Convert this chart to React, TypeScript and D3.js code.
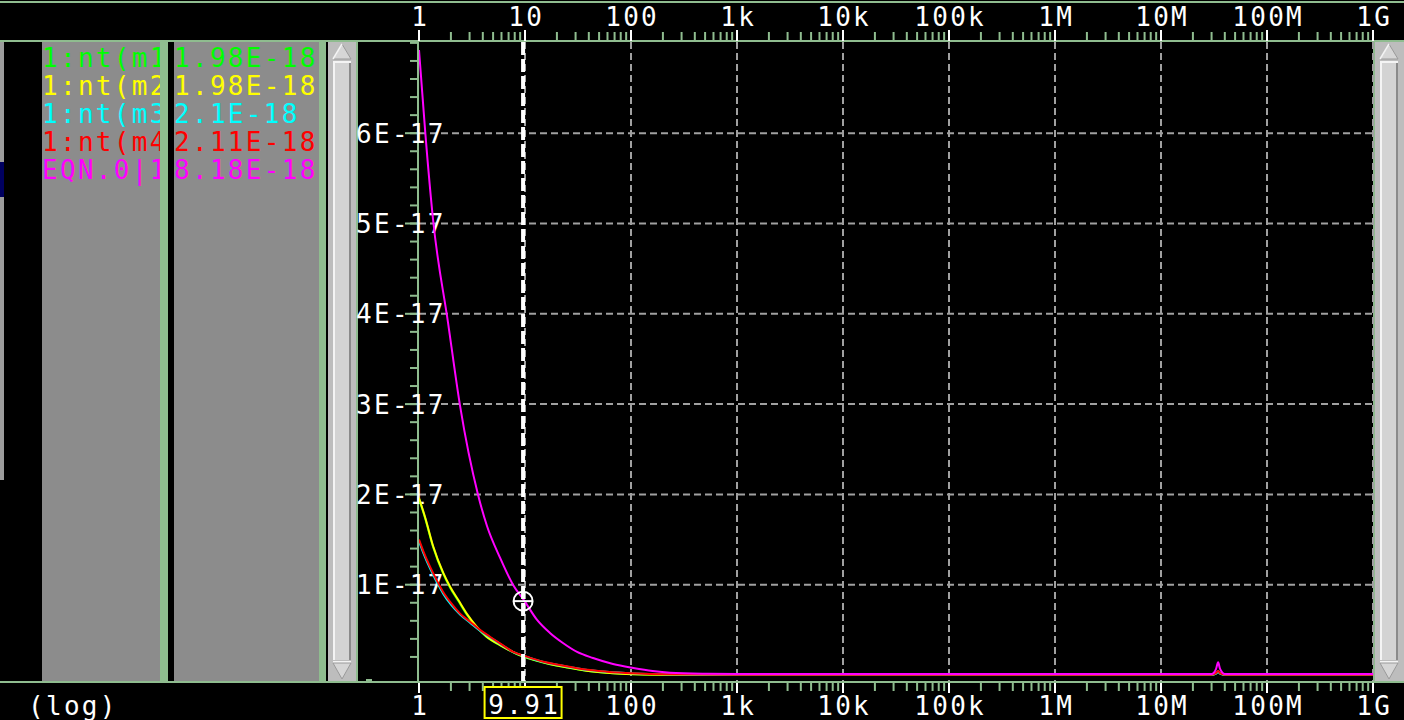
import React from "react";
import * as d3 from "d3";

// x axis decades
const freqTicks = [1, 10, 100, 1e3, 1e4, 1e5, 1e6, 1e7, 1e8, 1e9];
const freqLabels = ["1", "10", "100", "1k", "10k", "100k", "1M", "10M", "100M", "1G"];

// y axis (values in units of 1E-17)
const yTicks = [1, 2, 3, 4, 5, 6];
const yLabels = ["1E-17", "2E-17", "3E-17", "4E-17", "5E-17", "6E-17"];

// cursor
const cursorFreq = 9.91;
const cursorLabel = "9.91";

// trace 1:nt(m1 (hidden under m2)
const m1Freq = [1, 1.14, 1.365, 1.695, 1.96, 2.35, 2.82, 3.5, 4.35, 5.81, 8.36, 11.96, 17.2, 24.7, 38.1, 58.8, 90.8, 200, 1e3, 1e5, 1e7, 3.0e7, 3.3e7, 3.46e7, 3.6e7, 4.0e7, 1e8, 1e9];
const m1Val = [1.95, 1.74, 1.41, 1.12, 0.97, 0.82, 0.67, 0.53, 0.42, 0.33, 0.233, 0.168, 0.12, 0.084, 0.047, 0.024, 0.01, 0.004, 0.003, 0.003, 0.003, 0.003, 0.018, 0.038, 0.018, 0.003, 0.003, 0.003];

// trace 1:nt(m2
const m2Freq = [1, 1.14, 1.365, 1.695, 1.96, 2.35, 2.82, 3.5, 4.35, 5.81, 8.36, 11.96, 17.2, 24.7, 38.1, 58.8, 90.8, 200, 1e3, 1e5, 1e7, 3.0e7, 3.3e7, 3.46e7, 3.6e7, 4.0e7, 1e8, 1e9];
const m2Val = [1.96, 1.75, 1.42, 1.13, 0.98, 0.83, 0.68, 0.535, 0.424, 0.332, 0.235, 0.17, 0.122, 0.085, 0.048, 0.025, 0.011, 0.004, 0.003, 0.003, 0.003, 0.003, 0.02, 0.04, 0.02, 0.003, 0.003, 0.003];

// trace 1:nt(m3
const m3Freq = [1, 1.1, 1.27, 1.47, 1.69, 2.03, 2.44, 3.03, 3.76, 4.67, 5.81, 7.75, 10.4, 14.9, 21.4, 35.5, 58.8, 105, 215, 1e3, 1e5, 1e7, 3.0e7, 3.3e7, 3.46e7, 3.6e7, 4.0e7, 1e8, 1e9];
const m3Val = [1.48, 1.35, 1.18, 1.03, 0.9, 0.77, 0.67, 0.58, 0.49, 0.418, 0.345, 0.254, 0.2, 0.145, 0.108, 0.062, 0.036, 0.018, 0.008, 0.003, 0.003, 0.003, 0.003, 0.016, 0.035, 0.016, 0.003, 0.003, 0.003];

// trace 1:nt(m4
const m4Freq = [1, 1.1, 1.27, 1.47, 1.69, 2.03, 2.44, 3.03, 3.76, 4.67, 5.81, 7.75, 10.4, 14.9, 21.4, 35.5, 58.8, 105, 215, 1e3, 1e5, 1e7, 3.0e7, 3.3e7, 3.46e7, 3.6e7, 4.0e7, 1e8, 1e9];
const m4Val = [1.5, 1.37, 1.2, 1.05, 0.92, 0.79, 0.68, 0.59, 0.5, 0.424, 0.35, 0.257, 0.203, 0.147, 0.11, 0.063, 0.037, 0.019, 0.008, 0.003, 0.003, 0.003, 0.003, 0.02, 0.045, 0.02, 0.003, 0.003, 0.003];

// trace EQN.0|1 (sum)
const eqnFreq = [1, 1.147, 1.355, 1.88, 2.44, 3.6, 4.38, 5.81, 7.7, 9.91, 13, 17.2, 22.8, 31, 43.8, 67.6, 105, 160, 233, 524, 1e3, 1e5, 1e7, 3.0e7, 3.3e7, 3.46e7, 3.6e7, 4.0e7, 1e8, 1e9];
const eqnVal = [6.92, 6.0, 5.05, 3.9, 2.98, 2.0, 1.65, 1.3, 1.0, 0.818, 0.61, 0.465, 0.354, 0.255, 0.188, 0.122, 0.078, 0.044, 0.025, 0.013, 0.01, 0.01, 0.01, 0.01, 0.065, 0.14, 0.07, 0.01, 0.01, 0.01];

const traceNames = ["1:nt(m1", "1:nt(m2", "1:nt(m3", "1:nt(m4", "EQN.0|1"];
const traceValues = ["1.98E-18", "1.98E-18", "2.1E-18", "2.11E-18", "8.18E-18"];
const traceColors = ["#00ff00", "#ffff00", "#00ffff", "#ff0000", "#ff00ff"];

const GREEN = "#8fbc8f";
const PANEL = "#8c8c8c";
const GRID = "#a0a0a0";
const FONT = "'DejaVu Sans Mono', monospace";
const LS = 2.3;

function ScrollBar({ x0, w, cx, top, bottom }) {
  const tw = 18;
  return (
    <g>
      <rect x={x0} y={top} width={w} height={bottom - top} fill="#bdbdbd" />
      <polygon points={`${cx},${top + 2} ${cx - tw / 2},${top + 17} ${cx + tw / 2},${top + 17}`} fill="#d6d6d6" stroke="#9a9a9a" strokeWidth={1} />
      <line x1={cx} y1={top + 2} x2={cx - tw / 2} y2={top + 17} stroke="#f4f4f4" strokeWidth={1.5} />
      <rect x={cx - tw / 2} y={top + 19} width={tw} height={bottom - top - 40} fill="#d3d3d3" />
      <line x1={cx - tw / 2 + 1} y1={top + 19} x2={cx - tw / 2 + 1} y2={bottom - 21} stroke="#f4f4f4" strokeWidth={2} />
      <line x1={cx + tw / 2 - 1} y1={top + 19} x2={cx + tw / 2 - 1} y2={bottom - 21} stroke="#8a8a8a" strokeWidth={2} />
      <line x1={cx - tw / 2} y1={top + 20} x2={cx + tw / 2} y2={top + 20} stroke="#f4f4f4" strokeWidth={2} />
      <line x1={cx - tw / 2} y1={bottom - 19} x2={cx + tw / 2} y2={bottom - 19} stroke="#f4f4f4" strokeWidth={2} />
      <polygon points={`${cx - tw / 2},${bottom - 18} ${cx + tw / 2},${bottom - 18} ${cx},${bottom - 2}`} fill="#d6d6d6" stroke="#9a9a9a" strokeWidth={1} />
    </g>
  );
}

export default function App() {
  const W = 1404;
  const H = 720;
  const plot = { left: 419, right: 1373, top: 41, bottom: 682 };

  const x = d3.scaleLog().domain([1, 1e9]).range([plot.left, plot.right]);
  const y = d3.scaleLinear().domain([0, 7.021]).range([675, plot.top]);

  const series = [
    { f: m1Freq, v: m1Val },
    { f: m2Freq, v: m2Val },
    { f: m3Freq, v: m3Val },
    { f: m4Freq, v: m4Val },
    { f: eqnFreq, v: eqnVal },
  ].map((s, i) => ({
    name: traceNames[i],
    value: traceValues[i],
    color: traceColors[i],
    pts: s.f.map((f, j) => [f, s.v[j]]),
  }));

  const line = d3
    .line()
    .x((d) => x(d[0]))
    .y((d) => y(d[1]))
    .curve(d3.curveMonotoneX);

  const minorFreq = [];
  for (let d = 0; d < 9; d++) {
    for (let k = 2; k <= 9; k++) minorFreq.push(k * Math.pow(10, d));
  }
  const yMinor = d3.range(1, 36).map((i) => i * 0.2);

  const cx = x(cursorFreq) - 1.5;
  const eqnAtCursor = eqnVal[eqnFreq.indexOf(cursorFreq)];
  const cy = y(eqnAtCursor);

  // bottom labels hidden by the cursor readout box
  const boxL = cx - 38.5;
  const boxR = cx + 38.5;
  const bottomLabels = freqTicks
    .map((f, i) => ({ f, label: freqLabels[i] }))
    .filter((d) => x(d.f) + 14 < boxL || x(d.f) - 14 > boxR);

  return (
    <svg
      width={W}
      height={H}
      style={{ position: "absolute", left: 0, top: 0, display: "block", background: "#000" }}
      fontFamily={FONT}
    >
      <rect width={W} height={H} fill="#000" />

      {/* frame lines */}
      <rect x={0} y={1} width={W} height={2} fill={GREEN} />
      <rect x={0} y={40} width={W} height={2} fill={GREEN} />
      <rect x={0} y={681} width={W} height={2} fill={GREEN} />

      {/* left edge strip */}
      <rect x={0} y={42} width={4} height={438} fill="#9c9c9c" />
      <rect x={0} y={162} width={4} height={35} fill="#000060" />

      {/* legend panels */}
      <rect x={42} y={42} width={118} height={639} fill={PANEL} />
      <rect x={160} y={42} width={8} height={639} fill={GREEN} />
      <rect x={174} y={42} width={145} height={639} fill={PANEL} />
      <rect x={319} y={42} width={7} height={639} fill={GREEN} />
      <defs>
        <clipPath id="names">
          <rect x={42} y={42} width={118} height={639} />
        </clipPath>
        <clipPath id="vals">
          <rect x={174} y={42} width={145} height={639} />
        </clipPath>
        <clipPath id="plot">
          <rect x={plot.left} y={plot.top} width={plot.right - plot.left} height={plot.bottom - plot.top} />
        </clipPath>
      </defs>
      <g fontSize={26} letterSpacing={LS}>
        {series.map((s, i) => (
          <g key={s.name}>
            <text x={42} y={67 + i * 28} fill={s.color} clipPath="url(#names)">
              {s.name}
            </text>
            <text x={174} y={67 + i * 28} fill={s.color} clipPath="url(#vals)">
              {s.value}
            </text>
          </g>
        ))}
      </g>

      <ScrollBar x0={328} w={28} cx={342} top={42} bottom={681} />
      <rect x={356} y={42} width={2} height={639} fill={GREEN} />
      <ScrollBar x0={1375} w={29} cx={1389} top={42} bottom={681} />
      <rect x={1373} y={42} width={2} height={639} fill={GREEN} />
      <rect x={366} y={679} width={6} height={3} fill={GREEN} />

      {/* grid */}
      <g stroke={GRID} strokeWidth={2} strokeDasharray="7 4">
        {freqTicks.slice(1).map((f) => (
          <line key={f} x1={x(f)} x2={x(f)} y1={plot.top + 1} y2={plot.bottom - 1} />
        ))}
        {yTicks.map((v) => (
          <line key={v} x1={plot.left} x2={plot.right} y1={y(v)} y2={y(v)} />
        ))}
      </g>

      {/* y axis */}
      <rect x={417} y={42} width={2} height={639} fill={GREEN} />
      <g stroke={GREEN} strokeWidth={2}>
        {yMinor.map((v) => (
          <line key={v} x1={410} x2={417} y1={y(v)} y2={y(v)} />
        ))}
        {yTicks.map((v) => (
          <line key={v} x1={405} x2={417} y1={y(v)} y2={y(v)} />
        ))}
      </g>
      <g fontSize={26} letterSpacing={LS} fill="#fff">
        {yTicks.map((v, i) => (
          <text key={v} x={356} y={y(v) + 9.5}>
            {yLabels[i]}
          </text>
        ))}
      </g>

      {/* top axis */}
      <g>
        {minorFreq.map((f) => (
          <line key={f} x1={x(f)} x2={x(f)} y1={32} y2={40} stroke={GREEN} strokeWidth={2} />
        ))}
        {freqTicks.map((f) => (
          <line key={f} x1={x(f)} x2={x(f)} y1={30} y2={41} stroke="#fff" strokeWidth={2} />
        ))}
        {freqTicks.map((f, i) => (
          <text key={f} x={x(f) + LS / 2} y={26} textAnchor="middle" fontSize={26} letterSpacing={LS} fill="#fff">
            {freqLabels[i]}
          </text>
        ))}
      </g>

      {/* bottom axis */}
      <g>
        {minorFreq.map((f) => (
          <line key={f} x1={x(f)} x2={x(f)} y1={683} y2={691} stroke={GREEN} strokeWidth={2} />
        ))}
        {freqTicks.map((f) => (
          <line key={f} x1={x(f)} x2={x(f)} y1={683} y2={693} stroke="#fff" strokeWidth={2} />
        ))}
        {bottomLabels.map((d) => (
          <text key={d.f} x={x(d.f) + LS / 2} y={715} textAnchor="middle" fontSize={26} letterSpacing={LS} fill="#fff">
            {d.label}
          </text>
        ))}
        <text x={28} y={715} fontSize={26} letterSpacing={LS} fill="#fff">
          (log)
        </text>
      </g>

      {/* traces */}
      <g clipPath="url(#plot)" fill="none" strokeWidth={2}>
        {series.map((s) => (
          <path key={s.name} d={line(s.pts)} stroke={s.color} />
        ))}
      </g>

      {/* cursor */}
      <line x1={cx} x2={cx} y1={plot.top + 1} y2={plot.bottom - 1} stroke="#fff" strokeWidth={4} strokeDasharray="13 4" />
      <circle cx={cx} cy={cy} r={9.5} fill="none" stroke="#fff" strokeWidth={2} />
      <line x1={cx - 9.5} x2={cx + 9.5} y1={cy} y2={cy} stroke="#fff" strokeWidth={2} />
      <rect x={boxL} y={687} width={77} height={31} fill="#000" stroke="#ffff00" strokeWidth={2} />
      <text x={cx + LS / 2} y={714} textAnchor="middle" fontSize={26} letterSpacing={LS} fill="#fff">
        {cursorLabel}
      </text>
    </svg>
  );
}
